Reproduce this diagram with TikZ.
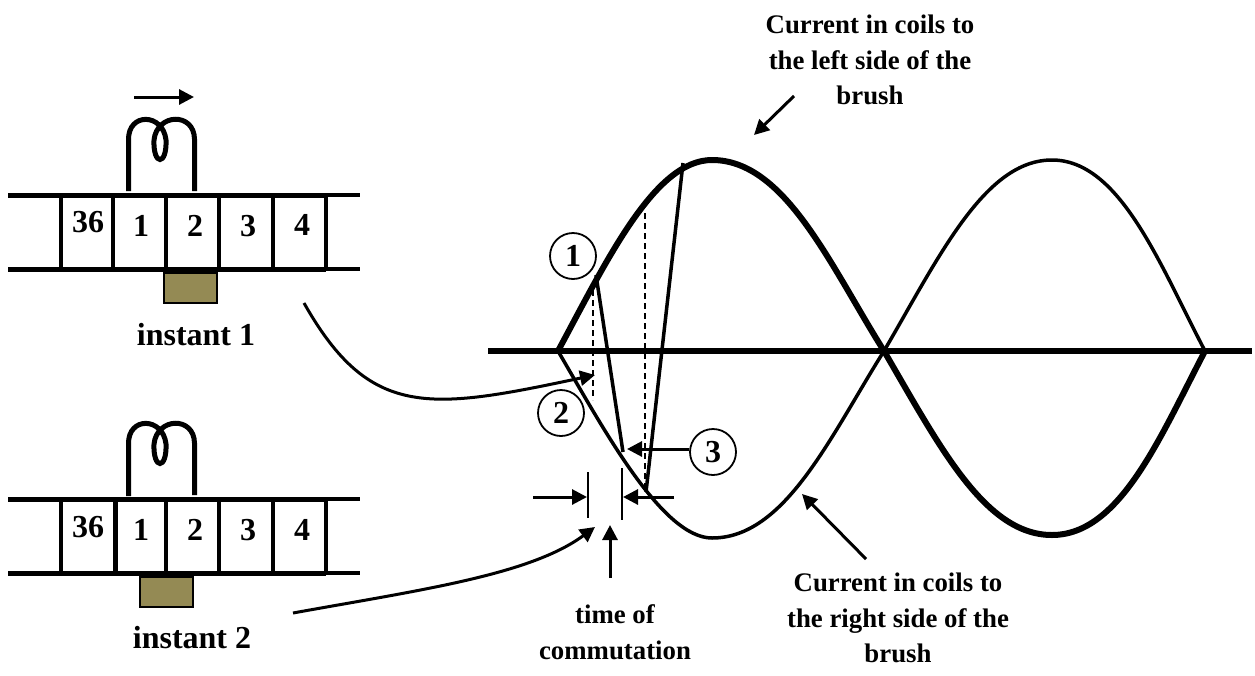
\documentclass[tikz,border=0pt]{standalone}
\usepackage{xcolor}
\usepackage{fontspec}
\setmainfont{Liberation Serif}
\usetikzlibrary{arrows.meta}
\definecolor{brusholive}{RGB}{148,138,84}

\begin{document}
\begin{tikzpicture}[
  x=1pt, y=-1pt,
  >={Triangle[length=15pt,width=15pt]},
  rail/.style={line width=5pt},
  railthin/.style={line width=3.5pt},
  bar/.style={line width=4.5pt},
  coil/.style={line width=5pt},
  wavethick/.style={line width=6pt},
  wavethin/.style={line width=3.5pt},
  chord/.style={line width=3.5pt},
  guide/.style={line width=2pt, dash pattern=on 6pt off 4pt},
  arrow/.style={->, line width=3pt},
  tick/.style={line width=2.5pt},
  brushbox/.style={draw, line width=1.5pt, fill=brusholive, minimum width=53pt, minimum height=30pt, inner sep=0pt},
  cellnum/.style={font=\fontsize{32}{32}\selectfont\bfseries, inner sep=0pt},
  instantlabel/.style={font=\fontsize{32}{32}\selectfont\bfseries, inner sep=0pt},
  caption/.style={font=\fontsize{26.8}{35.5}\selectfont\bfseries, align=center, inner sep=0pt},
  marker/.style={circle, draw, line width=1.8pt, minimum size=46pt, inner sep=0pt, font=\fontsize{32}{32}\selectfont\bfseries}
]
  \useasboundingbox (0,0) rectangle (1255,675);

  % Instant 1.
  \draw[rail] (8,195) -- (326,195);
  \draw[railthin] (326,195) -- (360,195);
  \draw[rail] (8,269) -- (326,269);
  \draw[railthin] (326,269) -- (360,269);
  \draw[bar] (61,193) -- (61,271);
  \draw[bar] (113,193) -- (113,271);
  \draw[bar] (166,193) -- (166,271);
  \draw[bar] (219,193) -- (219,271);
  \draw[bar] (273,193) -- (273,271);
  \draw[bar] (326,193) -- (326,271);
  \node[cellnum] (numa36) at (88,222) {36};
  \node[cellnum] (numa1) at (141,226) {1};
  \node[cellnum] (numa2) at (195,226) {2};
  \node[cellnum] (numa3) at (248,226) {3};
  \node[cellnum] (numa4) at (302,225) {4};
  \draw[coil] (128.5,191) -- (128.5,140) .. controls (128,112) and (163,113) .. (166,140)
    .. controls (167,166) and (153,166) .. (154,140) .. controls (157,113) and (194,112) .. (194.5,139) -- (194.5,191);
  \node[brushbox] (brusha) at (190.5,288) {};
  \node[instantlabel] (instanta) at (196,335) {instant 1};
  \coordinate (moveleft) at (134,97);
  \coordinate (moveright) at (194,97);
  \draw[arrow] (moveleft) -- (moveright);

  % Instant 2.
  \draw[rail] (8,499) -- (326,499);
  \draw[railthin] (326,499) -- (360,499);
  \draw[rail] (8,573) -- (326,573);
  \draw[railthin] (326,573) -- (360,573);
  \draw[bar] (61,497) -- (61,575);
  \draw[bar] (115.5,497) -- (115.5,575);
  \draw[bar] (166,497) -- (166,575);
  \draw[bar] (219,497) -- (219,575);
  \draw[bar] (273,497) -- (273,575);
  \draw[bar] (326,497) -- (326,575);
  \node[cellnum] (numb36) at (88,527) {36};
  \node[cellnum] (numb1) at (141,530) {1};
  \node[cellnum] (numb2) at (195,530) {2};
  \node[cellnum] (numb3) at (248,530) {3};
  \node[cellnum] (numb4) at (302,530) {4};
  \draw[coil] (128.5,496) -- (128.5,444) .. controls (128,416) and (163,417) .. (166,444)
    .. controls (167,470) and (153,470) .. (154,444) .. controls (157,417) and (194,416) .. (194.5,443) -- (194.5,495);
  \node[brushbox] (brushb) at (166.5,592) {};
  \node[instantlabel] (instantb) at (192,638) {instant 2};

  % Curves and axis.
  \coordinate (axisleft) at (488,351);
  \coordinate (axisright) at (1252,351);
  \coordinate (zeroa) at (558,351);
  \coordinate (zerob) at (884,351);
  \coordinate (zeroc) at (1205,351);
  \draw[wavethick] (axisleft) -- (axisright);
  \draw[wavethick] (zeroa) .. controls (608,258) and (655,160) .. (712,160)
    .. controls (785,160) and (830,265) .. (zerob);
  \draw[wavethin] (zeroa) .. controls (603,428) and (662,538) .. (712,538)
    .. controls (785,538) and (830,437) .. (zerob);
  \draw[wavethin] (zerob) .. controls (940,255) and (985,160) .. (1052,160)
    .. controls (1120,160) and (1160,265) .. (zeroc);
  \draw[wavethick] (zerob) .. controls (940,447) and (985,535) .. (1052,535)
    .. controls (1120,535) and (1160,437) .. (zeroc);

  % Chords and guides.
  \coordinate (cha) at (596,275);
  \coordinate (chb) at (623,452);
  \coordinate (chc) at (683,163);
  \coordinate (chd) at (646,492);
  \draw[chord] (cha) -- (chb);
  \draw[chord] (chc) -- (chd);
  \coordinate (guidea) at (593,290);
  \coordinate (guideb) at (593,400);
  \coordinate (guidec) at (645,213);
  \coordinate (guided) at (645,490);
  \draw[guide] (guidea) -- (guideb);
  \draw[guide] (guidec) -- (guided);

  \node[marker] (one) at (573,256) {1};
  \node[marker] (two) at (561,413) {2};
  \node[marker] (three) at (713,452) {3};

  % Commutation time.
  \coordinate (ticka) at (588,472);
  \coordinate (tickb) at (588,518);
  \coordinate (tickc) at (622,468);
  \coordinate (tickd) at (622,520);
  \draw[tick] (ticka) -- (tickb);
  \draw[tick] (tickc) -- (tickd);
  \coordinate (dimleft) at (533,497);
  \coordinate (dimlefttip) at (587,497);
  \coordinate (dimright) at (674,497);
  \coordinate (dimrighttip) at (623,497);
  \draw[arrow] (dimleft) -- (dimlefttip);
  \draw[arrow] (dimright) -- (dimrighttip);
  \coordinate (chordtip) at (627,449);
  \draw[arrow] (chordtip -| three.west) -- (chordtip);
  \coordinate (timetail) at (610,578);
  \coordinate (timetip) at (610,525);
  \draw[arrow] (timetail) -- (timetip);
  \node[caption] (timelabel) at (615,632) {time of\\commutation};

  % Pointers from the instants.
  \coordinate (pointa) at (304,303);
  \coordinate (pointatip) at (595,375);
  \coordinate (pointb) at (293,613);
  \coordinate (pointbtip) at (595,527);
  \draw[arrow] (pointa) .. controls (370,420) and (430,410) .. (pointatip);
  \draw[arrow] (pointb) .. controls (420,590) and (530,575) .. (pointbtip);

  % Coil side captions.
  \node[caption] (leftlabel) at (870,60) {Current in coils to\\the left side of the\\brush};
  \coordinate (lefttail) at (794,96);
  \coordinate (lefttip) at (754,135);
  \draw[arrow] (lefttail) -- (lefttip);
  \node[caption] (rightlabel) at (898,618) {Current in coils to\\the right side of the\\brush};
  \coordinate (righttail) at (866,559);
  \coordinate (righttip) at (802,494);
  \draw[arrow] (righttail) -- (righttip);
\end{tikzpicture}
\end{document}
